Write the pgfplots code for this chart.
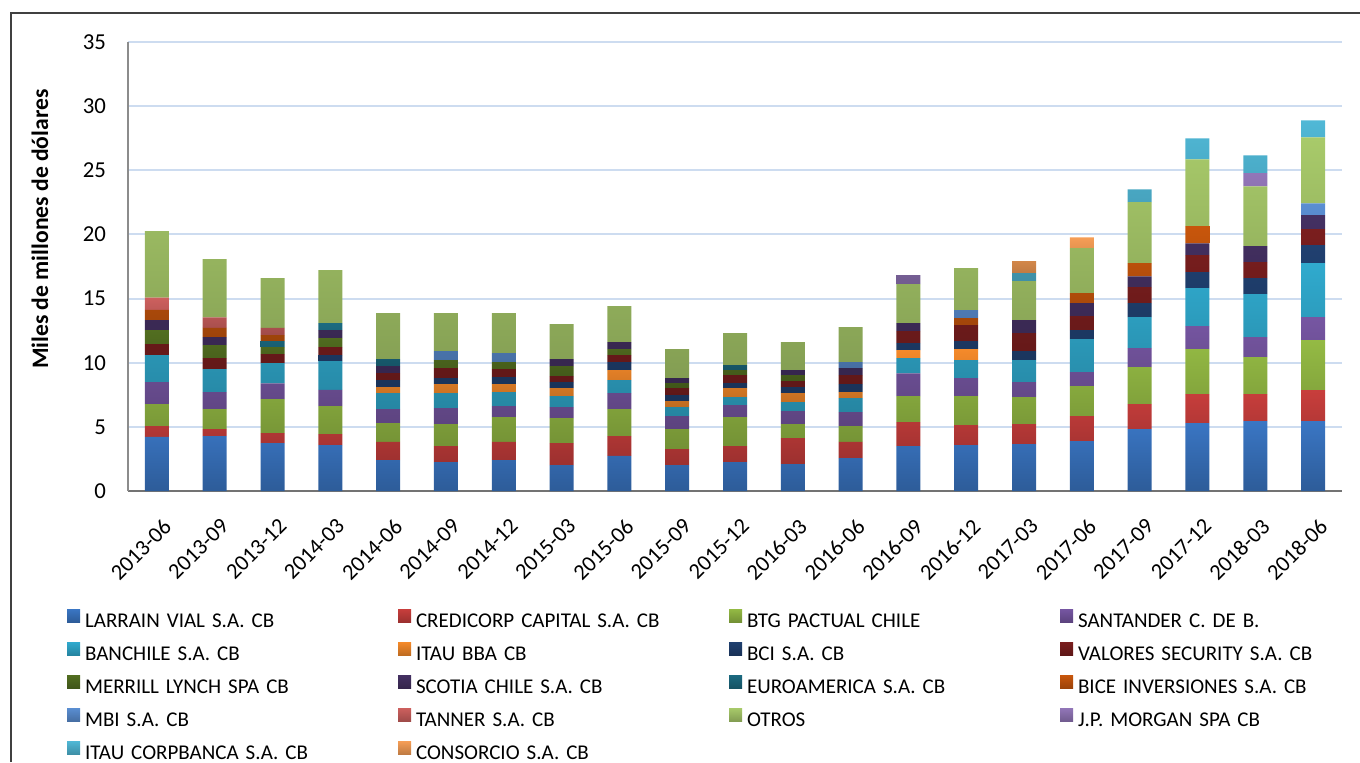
\documentclass[border=0pt]{standalone}
\usepackage{pgfplots}
\pgfplotsset{compat=1.18}
\usepackage{pgfplotstable}
\usepackage{fontspec}
\setmainfont{Carlito}

\definecolor{cLV}{RGB}{58,118,196}
\definecolor{cCR}{RGB}{200,62,60}
\definecolor{cBTG}{RGB}{148,186,68}
\definecolor{cSAN}{RGB}{118,86,162}
\definecolor{cBAN}{RGB}{48,170,206}
\definecolor{cIBBA}{RGB}{245,138,42}
\definecolor{cBCI}{RGB}{32,64,112}
\definecolor{cVAL}{RGB}{122,30,30}
\definecolor{cMER}{RGB}{82,110,32}
\definecolor{cSCO}{RGB}{68,48,98}
\definecolor{cEUR}{RGB}{27,106,128}
\definecolor{cBIC}{RGB}{200,86,12}
\definecolor{cMBI}{RGB}{90,142,210}
\definecolor{cTAN}{RGB}{205,96,94}
\definecolor{cOTR}{RGB}{168,202,106}
\definecolor{cJPM}{RGB}{146,118,184}
\definecolor{cICO}{RGB}{80,184,214}
\definecolor{cCON}{RGB}{246,158,86}
\definecolor{gridc}{RGB}{205,220,240}

\pgfplotstableread{
x lv cr btg san ban ibba bci val mer sco eur bic mbi tan otr jpm ico con
0 4.21 0.85 1.72 1.71 2.10 0 0 0.86 1.09 0.78 0 0.80 0 0.96 5.17 0 0 0
1 4.28 0.55 1.56 1.32 1.79 0 0 0.86 1.01 0.62 0 0.73 0 0.81 4.54 0 0 0
2 3.74 0.78 2.65 1.22 1.58 0 0 0.70 0.54 0 0.47 0.47 0 0.57 3.87 0 0 0
3 3.58 0.86 2.18 1.27 2.23 0 0.47 0.62 0.71 0.62 0.54 0 0 0 4.13 0 0 0
4 2.41 1.41 1.48 1.09 1.24 0.47 0.54 0.55 0 0.55 0.54 0 0 0 3.58 0 0 0
5 2.26 1.24 1.72 1.24 1.17 0.70 0.47 0.78 0.62 0 0 0 0.70 0 2.96 0 0 0
6 2.41 1.41 1.94 0.86 1.09 0.62 0.55 0.62 0.55 0 0 0 0.70 0 3.11 0 0 0
7 2.02 1.72 1.95 0.85 0.86 0.62 0.47 0.47 0.78 0.54 0 0 0 0 2.73 0 0 0
8 2.73 1.55 2.11 1.24 1.01 0.78 0.63 0.54 0.47 0.54 0 0 0 0 2.81 0 0 0
9 2.02 1.25 1.56 1.01 0.70 0.47 0.47 0.54 0.39 0.39 0 0 0 0 2.26 0 0 0
10 2.26 1.24 2.26 0.94 0.62 0.70 0.39 0.62 0.39 0 0.39 0 0 0 2.50 0 0 0
11 2.10 2.03 1.09 1.01 0.70 0.70 0.47 0.47 0.46 0.39 0 0 0 0 2.18 0 0 0
12 2.57 1.25 1.24 1.09 1.09 0.47 0.62 0.70 0 0.55 0 0 0.47 0 2.72 0 0 0
13 3.50 1.87 2.03 1.76 1.20 0.62 0.55 0.93 0 0.62 0 0 0 0 3.04 0.70 0 0
14 3.58 1.56 2.26 1.40 1.40 0.86 0.62 1.25 0 0 0 0.54 0.63 0 3.27 0 0 0
15 3.66 1.56 2.10 1.17 1.71 0 0.70 1.41 0 1.01 0 0 0 0 3.04 0 0.62 0.93
16 3.89 1.95 2.34 1.09 2.57 0 0.70 1.09 0 1.01 0 0.78 0 0 3.51 0 0 0.85
17 4.83 1.95 2.88 1.48 2.41 0 1.09 1.25 0 0.85 0 1.02 0 0 4.75 0 1.01 0
18 5.30 2.25 3.51 1.79 2.96 0 1.25 1.32 0 0.93 0 1.33 0 0 5.22 0 1.63 0
19 5.45 2.10 2.89 1.55 3.35 0 1.25 1.25 0 1.24 0 0 0 0 4.67 1.02 1.40 0
20 5.45 2.42 3.89 1.79 4.21 0 1.40 1.25 0 1.09 0 0 0.93 0 5.14 0 1.32 0
}\datatable

\pgfplotsset{
  sqleg/.style={legend image code/.code={\fill[##1] (0pt,0pt) rectangle (6.5pt,6.5pt);}},
  grad/.style={top color=#1, bottom color=#1!78!black, draw=none},
}
\newcommand{\tf}{\fontsize{11.4}{13}\selectfont}
\newcommand{\xf}{\fontsize{11.2}{13}\selectfont}

\begin{document}
\begin{tikzpicture}
\path[use as bounding box] (0pt,0pt) rectangle (680pt,381pt);
\draw[color=black!75, line width=0.8pt] (5.5pt,0pt) -- (5.5pt,374.5pt) -- (680pt,374.5pt);
\begin{axis}[
  at={(64pt,135.5pt)}, anchor=south west,
  scale only axis, width=607pt, height=224.5pt,
  ybar stacked, bar width=12pt,
  xmin=-0.5, xmax=20.5, ymin=0, ymax=35,
  ytick={0,5,...,35},
  yticklabels={\tf 0,\tf 5,\tf 10,\tf 15,\tf 20,\tf 25,\tf 30,\tf 35},
  xtick={0,...,20},
  xticklabels={\xf 2013-06,\xf 2013-09,\xf 2013-12,\xf 2014-03,\xf 2014-06,\xf 2014-09,\xf 2014-12,\xf 2015-03,\xf 2015-06,\xf 2015-09,\xf 2015-12,\xf 2016-03,\xf 2016-06,\xf 2016-09,\xf 2016-12,\xf 2017-03,\xf 2017-06,\xf 2017-09,\xf 2017-12,\xf 2018-03,\xf 2018-06},
  axis y line=left, axis x line=bottom,
  axis line style={-},
  y axis line style={draw=black!45, line width=0.8pt},
  x axis line style={draw=black!55, line width=1pt},
  major tick length=0pt,
  ymajorgrids, major grid style={draw=gridc, line width=1pt},
  yticklabel style={xshift=-7.5pt},
  xticklabel style={xshift=2.5pt, yshift=-13pt, rotate=45, anchor=north east, inner sep=0pt},
  every axis y label/.style={at={(axis description cs:-0.0725,0.583)}, rotate=90, anchor=center},
  ylabel={\fontsize{11.8}{13}\selectfont\bfseries Miles de millones de dólares},
  every axis plot/.append style={draw=none, sqleg},
  legend columns=4,
  legend cell align=left,
  legend style={at={(axis description cs:-0.0502,-0.2628)}, anchor=north west, draw=none, fill=none,
    inner sep=0pt, outer sep=0pt, row sep=5pt,
    font=\fontsize{10.5}{12}\selectfont,
    nodes={inner xsep=2.5pt, inner ysep=0pt, text height=7.5pt, text depth=2.5pt, text width=154pt, align=left}},
]
\addplot[grad=cLV] table[x=x,y=lv]{\datatable}; \addlegendentry{LARRAIN VIAL S.A. CB}
\addplot[grad=cCR] table[x=x,y=cr]{\datatable}; \addlegendentry{CREDICORP CAPITAL S.A. CB}
\addplot[grad=cBTG] table[x=x,y=btg]{\datatable}; \addlegendentry{BTG PACTUAL CHILE}
\addplot[grad=cSAN] table[x=x,y=san]{\datatable}; \addlegendentry{SANTANDER C. DE B.}
\addplot[grad=cBAN] table[x=x,y=ban]{\datatable}; \addlegendentry{BANCHILE S.A. CB}
\addplot[grad=cIBBA] table[x=x,y=ibba]{\datatable}; \addlegendentry{ITAU BBA CB}
\addplot[grad=cBCI] table[x=x,y=bci]{\datatable}; \addlegendentry{BCI S.A. CB}
\addplot[grad=cVAL] table[x=x,y=val]{\datatable}; \addlegendentry{VALORES SECURITY S.A. CB}
\addplot[grad=cMER] table[x=x,y=mer]{\datatable}; \addlegendentry{MERRILL LYNCH SPA CB}
\addplot[grad=cSCO] table[x=x,y=sco]{\datatable}; \addlegendentry{SCOTIA CHILE S.A. CB}
\addplot[grad=cEUR] table[x=x,y=eur]{\datatable}; \addlegendentry{EUROAMERICA S.A. CB}
\addplot[grad=cBIC] table[x=x,y=bic]{\datatable}; \addlegendentry{BICE INVERSIONES S.A. CB}
\addplot[grad=cMBI] table[x=x,y=mbi]{\datatable}; \addlegendentry{MBI S.A. CB}
\addplot[grad=cTAN] table[x=x,y=tan]{\datatable}; \addlegendentry{TANNER S.A. CB}
\addplot[grad=cOTR] table[x=x,y=otr]{\datatable}; \addlegendentry{OTROS}
\addplot[grad=cJPM] table[x=x,y=jpm]{\datatable}; \addlegendentry{J.P. MORGAN SPA CB}
\addplot[grad=cICO] table[x=x,y=ico]{\datatable}; \addlegendentry{ITAU CORPBANCA S.A. CB}
\addplot[grad=cCON] table[x=x,y=con]{\datatable}; \addlegendentry{CONSORCIO S.A. CB}
\end{axis}
\end{tikzpicture}
\end{document}
